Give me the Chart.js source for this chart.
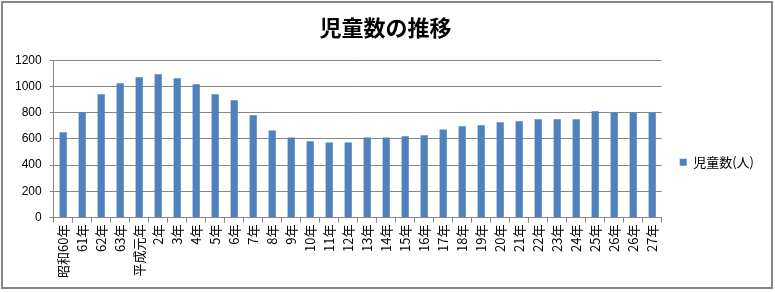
<!DOCTYPE html>
<html>
<head>
<meta charset="utf-8">
<script src="https://cdn.jsdelivr.net/npm/chart.js@4"></script>
<style>
    body { margin: 0; background: #fff; }
    #wrap { position: relative; width: 775px; height: 292px; }
</style>
</head>
<body>
<div id="wrap"><canvas id="BarChart"></canvas></div>
<script>
const years = [
    '昭和60年', '61年', '62年', '63年', '平成元年', '2年', '3年', '4年',
    '5年', '6年', '7年', '8年', '9年', '10年', '11年', '12年',
    '13年', '14年', '15年', '16年', '17年', '18年', '19年', '20年',
    '21年', '22年', '23年', '24年', '25年', '26年', '26年', '27年'
];
const children = [
    652, 803, 941, 1025, 1071, 1094, 1064, 1018,
    941, 895, 781, 665, 612, 582, 574, 574,
    612, 612, 620, 628, 673, 697, 705, 728,
    735, 750, 750, 750, 812, 801, 801, 801
];
const seriesName = '児童数(人)';
const titleText = '児童数の推移';

const grey = '#868686';

// outer frame like the spreadsheet chart box
const frame = {
    id: 'frame',
    afterDraw(chart) {
        const c = chart.ctx;
        c.save();
        c.strokeStyle = grey;
        c.lineWidth = 2;
        c.strokeRect(2, 2, 770, 286);
        c.restore();
    }
};

const ctx = document.getElementById('BarChart');
new Chart(ctx, {
    type: 'bar',
    data: {
        labels: years,
        datasets: [
            {
                label: seriesName,
                data: children,
                backgroundColor: '#4F81BD',
                barPercentage: 0.38,
                categoryPercentage: 1
            }
        ]
    },
    options: {
        responsive: true,
        maintainAspectRatio: false,
        animation: false,
        layout: {
            padding: { left: 7, right: 11, top: 6, bottom: 12 }
        },
        plugins: {
            title: {
                display: true,
                text: titleText,
                color: '#000',
                font: { family: '"Noto Sans CJK JP"', size: 22, weight: 'bold' },
                padding: { top: 8, bottom: 20 }
            },
            legend: {
                position: 'right',
                // blank legend title just pushes the single entry down
                title: {
                    display: true,
                    text: ' ',
                    padding: 12,
                    font: { size: 12 }
                },
                labels: {
                    boxWidth: 7,
                    boxHeight: 7,
                    padding: 18,
                    color: '#000',
                    font: { family: '"Noto Sans CJK JP"', size: 13 }
                }
            },
            tooltip: { enabled: false }
        },
        scales: {
            x: {
                grid: {
                    drawOnChartArea: false,
                    color: grey,
                    tickLength: 5
                },
                border: { color: grey },
                ticks: {
                    autoSkip: false,
                    minRotation: 90,
                    maxRotation: 90,
                    padding: 2,
                    color: '#000',
                    font: { family: '"Noto Sans CJK JP"', size: 13 }
                }
            },
            y: {
                min: 0,
                max: 1200,
                grid: {
                    color: grey,
                    tickLength: 4
                },
                border: { color: grey },
                ticks: {
                    stepSize: 200,
                    padding: 8,
                    color: '#000',
                    font: { family: '"Liberation Sans"', size: 12 },
                    callback: (v) => String(v)
                }
            }
        }
    },
    plugins: [frame]
});
</script>
</body>
</html>
